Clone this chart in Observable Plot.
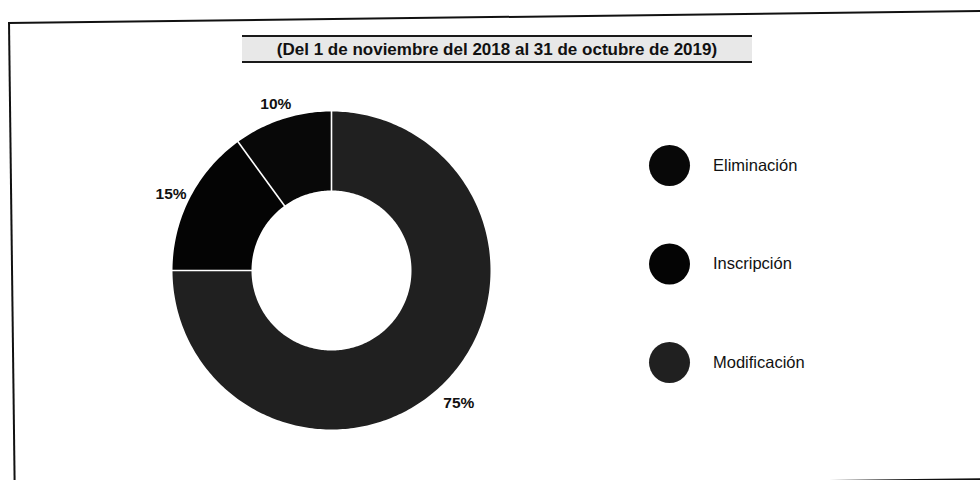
<!DOCTYPE html>
<html>
<head>
<meta charset="utf-8">
<script src="https://cdn.jsdelivr.net/npm/d3@7"></script>
<script src="https://cdn.jsdelivr.net/npm/@observablehq/plot@0.6"></script>
<style>
  html, body { margin: 0; padding: 0; background: #fff; }
  #wrap { position: relative; width: 980px; height: 480px; overflow: hidden; font-family: "Liberation Sans", Arial, sans-serif; }
  #frame { position: absolute; left: 8px; top: 22px; width: 1000px; height: 466px; border-left: 2px solid #111; border-top: 2px solid #111; border-bottom: 2px solid #111; transform: rotate(-0.7deg); transform-origin: 0 0; }
  #title { position: absolute; left: 242px; top: 35px; width: 510px; height: 24px; background: #e8e8e8; border-top: 2px solid #1a1a1a; border-bottom: 2px solid #1a1a1a; font-weight: bold; font-size: 17px; line-height: 26px; text-align: center; color: #111; white-space: nowrap; }
  #chart { position: absolute; left: 0; top: 0; }
</style>
</head>
<body>
<div id="wrap">
  <div id="frame"></div>
  <div id="chart"></div>
  <div id="title"></div>
</div>
<script>
// ---- data ----
const titleText = "(Del 1 de noviembre del 2018 al 31 de octubre de 2019)";
const categories = ["Eliminación", "Inscripción", "Modificación"];
const values = [10, 15, 75];
const pctLabels = ["10%", "15%", "75%"];

// ---- layout (not data) ----
const W = 980, H = 480;
const cx = 331, cy = 270, R = 159, r0 = 80, labelR = 180, labelDy = 5;
const legendX = 669, legendY0 = 165, legendStep = 98.5, legendR = 20.5;
const colors = ["#080808", "#040404", "#202020"];

document.getElementById("title").textContent = titleText;

const total = d3.sum(values);
// angles measured from 12 o'clock, counterclockwise
const pt = (a, rad) => ({x: cx - rad * Math.sin(a), y: cy - rad * Math.cos(a)});
let acc = 0;
const slices = categories.map((c, i) => {
  const a0 = acc / total * 2 * Math.PI;
  acc += values[i];
  const a1 = acc / total * 2 * Math.PI;
  return {category: c, value: values[i], label: pctLabels[i], a0, a1, index: i};
});

const ring = [];
for (const s of slices) {
  const n = Math.max(8, Math.ceil((s.a1 - s.a0) / (Math.PI / 180)));
  for (let k = 0; k <= n; k++) {
    const a = s.a0 + (s.a1 - s.a0) * k / n;
    ring.push({category: s.category, ...pt(a, R)});
  }
  for (let k = n; k >= 0; k--) {
    const a = s.a0 + (s.a1 - s.a0) * k / n;
    ring.push({category: s.category, ...pt(a, r0)});
  }
}

const separators = slices.map(s => {
  const p1 = pt(s.a0, r0 - 1), p2 = pt(s.a0, R + 1);
  return {x1: p1.x, y1: p1.y, x2: p2.x, y2: p2.y};
});

const labelPts = slices.map(s => ({label: s.label, ...pt((s.a0 + s.a1) / 2, labelR)}));

const legend = categories.map((c, i) => ({category: c, x: legendX, y: legendY0 + i * legendStep}));

const chart = Plot.plot({
  width: W,
  height: H,
  margin: 0,
  style: {fontFamily: "'Liberation Sans', Arial, sans-serif", background: "transparent", overflow: "visible"},
  x: {domain: [0, W], range: [0, W], axis: null},
  y: {domain: [0, H], range: [0, H], axis: null},
  color: {domain: categories, range: colors},
  marks: [
    Plot.line(ring, {x: "x", y: "y", z: "category", fill: "category", stroke: "none", curve: "linear"}),
    Plot.link(separators, {x1: "x1", y1: "y1", x2: "x2", y2: "y2", stroke: "white", strokeWidth: 1.6}),
    Plot.text(labelPts, {x: "x", y: "y", dy: labelDy, text: "label", fontSize: 15.5, fontWeight: "bold", fill: "#111", textAnchor: "middle"}),
    Plot.dot(legend, {x: "x", y: "y", r: legendR, fill: "category", stroke: null}),
    Plot.text(legend, {x: "x", y: "y", text: "category", dx: legendR + 23, textAnchor: "start", fontSize: 16.5, fill: "#111"})
  ]
});
document.getElementById("chart").appendChild(chart);
</script>
</body>
</html>
